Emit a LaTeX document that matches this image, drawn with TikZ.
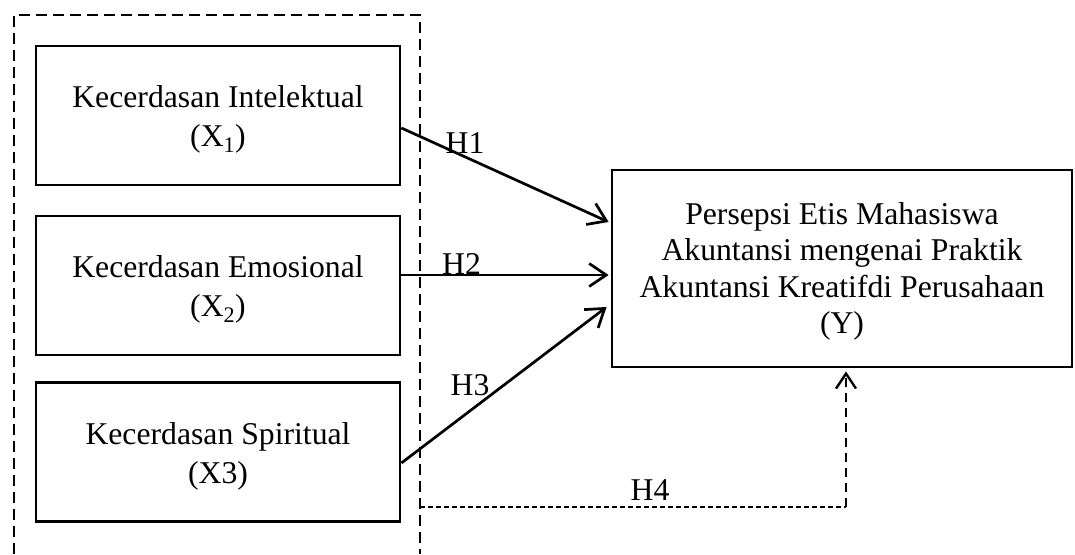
\documentclass[tikz,border=0pt]{standalone}
\usepackage{fontspec}
\setmainfont{Liberation Serif}
\usetikzlibrary{arrows.meta}
\begin{document}
\begin{tikzpicture}[x=1pt,y=-1pt,
  txt/.style={font=\fontsize{31.7}{39}\selectfont},
  box/.style={draw,line width=2.8pt,minimum width=364pt,minimum height=139pt,align=center,inner sep=0pt,txt},
  ybox/.style={draw,line width=2.8pt,minimum width=460pt,minimum height=197pt,align=center,inner sep=0pt,font=\fontsize{31.7}{36.5}\selectfont},
  arr/.style={line width=2.7pt,-{Straight Barb[length=17pt,width=23pt]}},
  outer/.style={line width=2.7pt,dash pattern=on 11pt off 6pt},
  dotln/.style={line width=1.4pt,dash pattern=on 4.5pt off 3.5pt},
  vdash/.style={line width=2.4pt,dash pattern=on 9pt off 6pt,-{Straight Barb[length=15pt,width=20pt]}},
  lbl/.style={txt,inner sep=0pt,anchor=base}]
\useasboundingbox (0,0) rectangle (1075,554);
% outer dashed frame (open at the bottom)
\draw[outer] (14,554) -- (14,15) -- (420,15) -- (420,554);
% boxes
\node[box] (b1) at (218,115.5) {\rule{0pt}{30pt}Kecerdasan Intelektual\\(X\textsubscript{1})};
\node[box] (b2) at (218,285.5) {\rule{0pt}{30pt}Kecerdasan Emosional\\(X\textsubscript{2})};
\node[box] (b3) at (218,452) {\rule{0pt}{30pt}Kecerdasan Spiritual\\(X3)};
\node[ybox] (y) at (842,268.5) {\rule{0pt}{28pt}Persepsi Etis Mahasiswa\\Akuntansi mengenai Praktik\\Akuntansi Kreatifdi Perusahaan\\(Y)};
% arrows
\draw[arr] ([yshift=-12.5pt]b1.east) -- ([yshift=46.5pt,xshift=-2pt]y.west);
\draw[arr] ([yshift=10.5pt]b2.east) -- ([yshift=-6.5pt,xshift=-2pt]y.west);
\draw[arr] ([yshift=-11pt]b3.east) -- ([yshift=-38.5pt,xshift=-4pt]y.west);
% H4
\coordinate (h4s) at (420,507);
\coordinate (h4c) at (846,507);
\draw[dotln] (h4s) -- (h4c);
\draw[vdash] (h4c) -- ([xshift=4pt,yshift=-3pt]y.south);
% labels
\node[lbl] (l1) at (465,153) {H1};
\node[lbl] (l2) at (461.5,274) {H2};
\node[lbl] (l3) at (470,395) {H3};
\node[lbl] (l4) at (650,500) {H4};
\end{tikzpicture}
\end{document}
